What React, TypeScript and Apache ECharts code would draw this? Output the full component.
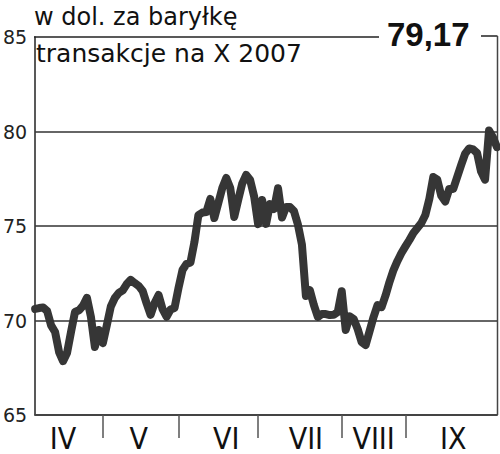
import React, { useEffect, useRef } from "react";
import * as echarts from "echarts";

// Oil price (USD per barrel), trading sessions April–September 2007
const prices: number[] = [
  70.61, 70.66, 70.69, 70.5, 69.74, 69.39, 68.33, 67.85, 68.28, 69.39,
  70.45, 70.54, 70.78, 71.2, 70.2, 68.6, 69.5, 68.8, 69.76, 70.74,
  71.19, 71.46, 71.59, 71.93, 72.15, 71.98, 71.83, 71.56, 70.9, 70.3,
  70.93, 71.35, 70.6, 70.2, 70.58, 70.66, 71.72, 72.67, 72.99, 73.07,
  74.15, 75.58, 75.71, 75.74, 76.43, 75.42, 76.22, 77.01, 77.54, 77.01,
  75.48, 76.38, 77.24, 77.7, 77.43, 76.56, 75.1, 76.38, 75.11, 76.16,
  75.9, 77.0, 75.45, 76.0, 76.0, 75.79, 75.07, 74.02, 71.3, 71.6,
  70.82, 70.19, 70.34, 70.34, 70.29, 70.3, 70.45, 71.55, 69.5, 70.22,
  70.08, 69.55, 68.86, 68.7, 69.44, 70.19, 70.82, 70.71, 71.32, 72.04,
  72.67, 73.15, 73.57, 73.92, 74.26, 74.63, 74.89, 75.16, 75.58, 76.43,
  77.59, 77.45, 76.6, 76.3, 76.96, 76.96, 77.59, 78.23, 78.83, 79.1,
  79.05, 78.86, 77.88, 77.45, 80.05, 79.68, 79.17,
];
const sessions: string[] = prices.map((_, i) => String(i));

const monthLabels: string[] = ["IV", "V", "VI", "VII", "VIII", "IX"];
const monthLabelIdx: number[] = [7, 26, 48, 68, 85, 105];
const monthBoundaryIdx: number[] = [17, 36, 56, 77, 93];

const gridLevels: number[] = [70, 75, 80];
const yMin = 65;
const yMax = 85;
const yStep = 5;

const unitTitle = "w dol. za baryłkę";
const subTitle = "transakcje na X 2007";
const lastValue = "79,17";

const FONT = "'DejaVu Sans', sans-serif";
const FONT_COND = "'DejaVu Sans Condensed', 'DejaVu Sans', sans-serif";

export default function App() {
  const ref = useRef<HTMLDivElement>(null);
  useEffect(() => {
    document.body.style.margin = "0";
    if (!ref.current) return;
    const chart = echarts.init(ref.current, null, { renderer: "svg" });
    chart.setOption({
      animation: false,
      backgroundColor: "#ffffff",
      grid: { left: 34, right: 3, top: 37, bottom: 39 },
      xAxis: {
        type: "category",
        data: sessions,
        boundaryGap: false,
        axisLine: { show: true, lineStyle: { color: "#444", width: 2 } },
        axisTick: {
          show: true,
          interval: (i: number) => monthBoundaryIdx.includes(i),
          length: 23,
          lineStyle: { color: "#555", width: 1.5 },
        },
        axisLabel: {
          interval: (i: number) => monthLabelIdx.includes(i),
          formatter: (v: string) => {
            const k = monthLabelIdx.indexOf(Number(v));
            return k >= 0 ? monthLabels[k] : "";
          },
          fontSize: 30,
          fontFamily: FONT_COND,
          color: "#111",
          margin: 8,
        },
        splitLine: { show: false },
      },
      yAxis: {
        type: "value",
        min: yMin,
        max: yMax,
        interval: yStep,
        axisLine: { show: true, lineStyle: { color: "#222", width: 1.5 } },
        axisTick: { show: false },
        splitLine: { show: false },
        axisLabel: { fontSize: 19, color: "#222", margin: 8, fontFamily: FONT },
      },
      series: [
        {
          type: "line",
          data: [],
          z: 1,
          silent: true,
          markLine: {
            silent: true,
            symbol: "none",
            label: { show: false },
            lineStyle: { color: "#333", width: 1.5, type: "solid" },
            data: gridLevels.map((v) => ({ yAxis: v })),
          },
        },
        {
          type: "line",
          data: prices,
          z: 3,
          showSymbol: false,
          symbol: "none",
          lineStyle: { color: "#363636", width: 8, cap: "round", join: "round" },
        },
      ],
      graphic: [
        { type: "line", shape: { x1: 34, y1: 37, x2: 379, y2: 37 }, style: { stroke: "#222", lineWidth: 1.5 } },
        { type: "line", shape: { x1: 481, y1: 36, x2: 497.5, y2: 36 }, style: { stroke: "#222", lineWidth: 1.5 } },
        { type: "line", shape: { x1: 497.5, y1: 36, x2: 497.5, y2: 415 }, style: { stroke: "#444", lineWidth: 1.5 } },
        {
          type: "text",
          left: 34,
          top: 5,
          style: { text: unitTitle, fontSize: 24, fontFamily: FONT, fill: "#111" },
        },
        {
          type: "text",
          left: 36,
          top: 41,
          style: { text: subTitle, fontSize: 25, fontFamily: FONT, fill: "#111" },
        },
        {
          type: "text",
          left: 387,
          top: 18,
          style: { text: lastValue, fontSize: 33, fontWeight: "bold", fontFamily: "'Liberation Sans', Arial, sans-serif", fill: "#111" },
        },
      ],
    });
    return () => chart.dispose();
  }, []);
  return <div ref={ref} style={{ width: 500, height: 454 }} />;
}
